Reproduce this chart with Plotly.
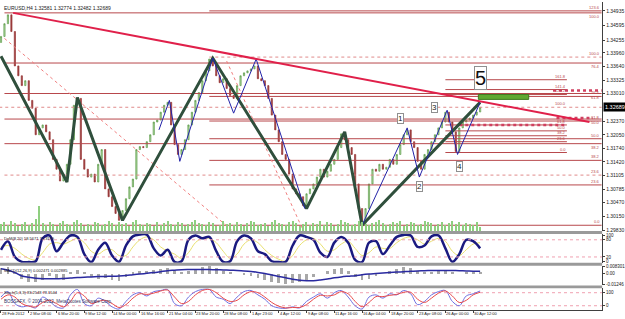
import plotly.graph_objects as go

# ------------------------------------------------------------------ data
TITLE = "EURUSD,H4 1.32581 1.32774 1.32482 1.32689"
STEP = 2          # candles drawn every 2 H4 bars
OSC_STEP = 4      # oscillator samples every 4 bars
first_open = 1.34200
closes = [1.34340, 1.34637, 1.34843, 1.34454, 1.33653, 1.33424, 1.33195, 1.33309, 1.32851, 1.32668,
          1.32050, 1.32210, 1.32279, 1.32118, 1.31935, 1.31477, 1.31248, 1.30973, 1.31134, 1.31363,
          1.31935, 1.32737, 1.32897, 1.31477, 1.31248, 1.31065, 1.31134, 1.30950, 1.31363, 1.31706,
          1.30790, 1.30607, 1.30378, 1.30217, 1.30057, 1.30286, 1.30561, 1.30836, 1.31019, 1.31706,
          1.31775, 1.31752, 1.31889, 1.32050, 1.32347, 1.32393, 1.32576, 1.32737, 1.32805, 1.32279,
          1.31821, 1.31592, 1.31706, 1.31935, 1.32279, 1.32576, 1.32851, 1.33034, 1.33309, 1.33538,
          1.33813, 1.33653, 1.33424, 1.33263, 1.33355, 1.33126, 1.32966, 1.32897, 1.33195, 1.33424,
          1.33492, 1.33538, 1.33584, 1.33653, 1.33355, 1.33309, 1.33195, 1.32897, 1.32508, 1.32164,
          1.31889, 1.31592, 1.31477, 1.31134, 1.30790, 1.30676, 1.30607, 1.30401, 1.30676, 1.30790,
          1.30905, 1.31065, 1.31248, 1.31065, 1.31202, 1.31363, 1.31477, 1.31752, 1.32072, 1.31935,
          1.31752, 1.31592, 1.30905, 1.30332, 1.29989, 1.30332, 1.30905, 1.31248, 1.31202, 1.31363,
          1.31248, 1.31294, 1.31477, 1.31363, 1.31592, 1.31821, 1.32050, 1.32164, 1.31889, 1.31752,
          1.31431, 1.31248, 1.31592, 1.31706, 1.31889, 1.32050, 1.32210, 1.32347, 1.32576, 1.32347,
          1.32118, 1.31660, 1.32210, 1.32347, 1.32393, 1.32439, 1.32508, 1.32581, 1.32689]
volumes = [2100, 2700, 1800, 3000, 2400, 1500, 2100, 2700, 1800, 2400, 3600, 7500, 2400, 1800, 2700,
           2100, 1500, 2400, 3000, 2100, 1800, 2700, 3300, 2400, 1500, 2100, 1800, 2700, 2400, 1800,
           2100, 3000, 2400, 1800, 2700, 2100, 2400, 1500, 2700, 3300, 2100, 1800, 2400, 2100, 1500,
           2700, 1800, 2400, 3000, 2100, 1800, 2700, 2400, 1500, 2100, 2700, 3300, 2400, 2100, 1800,
           2700, 2400, 1500, 1800, 3000, 2100, 2400, 1800, 2700, 2100, 1500, 2400, 3000, 2700, 1800,
           2100, 2400, 1500, 2700, 3300, 2400, 2100, 1800, 2700, 3000, 2400, 1500, 2100, 2700, 1800,
           2400, 2100, 3000, 1800, 2700, 2400, 1500, 2100, 3300, 2700, 2400, 1800, 2100, 3000, 2700,
           2100, 1800, 2400, 2700, 3300, 2400, 1800, 2100, 2700, 2400, 3000, 1500, 2100, 2700, 2400,
           1800, 2100, 3000, 2700, 2400, 1500, 2100, 2700, 1800, 2400, 3000, 2100, 2700, 1800, 2400,
           2100, 1800, 2700, 1200]

time_tick_bars = [0, 16, 32, 48, 64, 80, 96, 112, 128, 144, 160, 176, 192, 208, 224, 240, 256, 272]
time_labels = ["28 Feb 2012", "2 Mar 08:00", "6 Mar 20:00", "9 Mar 12:00", "14 Mar 00:00",
               "16 Mar 16:00", "21 Mar 04:00", "23 Mar 20:00", "28 Mar 08:00", "1 Apr 23:00",
               "4 Apr 12:00", "9 Apr 08:00", "11 Apr 16:00", "16 Apr 04:00", "18 Apr 20:00",
               "23 Apr 08:00", "26 Apr 00:00", "30 Apr 12:00"]
price_ticks = [1.34935, 1.34595, 1.34255, 1.33960, 1.33640, 1.33325, 1.33010, 1.32370, 1.32050,
               1.31740, 1.31420, 1.31105, 1.30785, 1.30470, 1.30150, 1.29830]
price_range = [1.29807, 1.35142]
last_price = 1.32689

green_zz_bars = [0, 38, 44, 70, 122, 176, 198, 208, 276]
green_zz_prices = [1.33882, 1.30950, 1.32920, 1.30057, 1.33836, 1.30332, 1.32118, 1.29943, 1.32805]
blue_zz_bars = [91, 97, 103, 122, 134, 147, 175, None, 208, 234, 241, 257, 263, 276]
blue_zz_prices = [1.32164, 1.32851, 1.31431, 1.33836, 1.32553, 1.33813, 1.30332, None,
                  1.29943, 1.32210, 1.31065, 1.32622, 1.31592, 1.32805]
trend_bars = [7, 339]
trend_prices = [1.34889, 1.32347]
dot1_bars = [2, 133]
dot1_prices = [1.34294, 1.29828]
dot2_bars = [130, 174]
dot2_prices = [1.33767, 1.29828]

fibA_levels = [1.34889, 1.33721, 1.33011, 1.32416, 1.31843]
fibA_labels = ["100.0", "76.4", "61.8", "50.0", "38.2"]
fibA_start = 2
fibA_dotted = [1.31111]
fibA_dotted_labels = ["23.6"]
fibB_levels = [1.34935, 1.32943, 1.32370, 1.31958, 1.31454, 1.30882]
fibB_labels = ["123.6", "76.4", "61.8", "50.0", "38.2", "23.6"]
fibB_start = 120
fibB_dotted = [1.33859]
fibB_dotted_labels = ["100.0"]
zero_level = 1.29943
zero_label = "0.0"
full_dotted_level = 1.32691
fib_end = 346
fibC_levels = [1.33332, 1.33103, 1.32989, 1.32279, 1.32141, 1.32027, 1.31889, 1.31637]
fibC_labels = ["161.8", "141.4", "127.2", "61.8", "50.0", "38.2", "23.6", "0.0"]
fibC_dotted = [1.32691]
fibC_dotted_labels = ["100.0"]
fibC_span = [256, 326]
hatch_levels = [1.33080, 1.32439, 1.32279]
hatch_spans = [[318, 346], [320, 341], [264, 326]]

rect_bars = [275, 304]
rect_prices = [1.32874, 1.32989]
wave_text = ["1", "2", "3", "4"]
wave_bars = [230, 241, 250, 264]
wave_prices = [1.32439, 1.30836, 1.32691, 1.31317]
wave5_bar = 276
wave5_price = 1.33378

dem_main = [45, 75, 20, 3, 2, 5, 85, 95, 40, 70, 95, 90, 30, 2, 45, 70, 25, 3, 60, 92,
            98, 98, 50, 25, 45, 3, 5, 80, 95, 85, 90, 40, 3, 5, 75, 95, 85, 40, 30, 5,
            2, 3, 60, 95, 90, 80, 35, 20, 70, 90, 70, 10, 2, 70, 75, 30, 60, 90, 97, 95,
            55, 60, 92, 95, 50, 3, 30, 80, 75, 50]
dem_signal = [55, 60, 50, 30, 15, 10, 35, 65, 70, 65, 75, 85, 70, 40, 30, 45, 45, 25, 25, 55,
              80, 90, 80, 55, 40, 30, 15, 35, 70, 85, 85, 70, 40, 15, 30, 65, 80, 70, 45, 25,
              12, 5, 25, 60, 80, 85, 65, 40, 45, 65, 75, 50, 25, 35, 55, 50, 50, 70, 85, 90,
              80, 65, 75, 85, 75, 40, 25, 45, 65, 70]
macd_hist = [0.006, 0.007, 0.002, -0.005, -0.008, -0.009, -0.006, -0.002, -0.004, -0.006,
             0.001, 0.004, 0.001, -0.003, -0.005, -0.004, -0.006, -0.007, -0.003, 0.001,
             0.003, 0.003, 0.004, 0.005, 0.006, 0.003, 0.001, 0.003, 0.005, 0.007,
             0.008, 0.006, 0.003, 0.002, 0.000, -0.001, -0.002, -0.004, -0.006, -0.008,
             -0.010, -0.011, -0.010, -0.008, -0.006, -0.003, 0.000, 0.003, 0.005, 0.006,
             0.003, -0.003, -0.006, -0.005, -0.002, 0.000, 0.003, 0.005, 0.007, 0.006,
             0.003, 0.002, 0.002, 0.003, 0.003, 0.002, 0.000, 0.001, 0.002, 0.002]
macd_signal = [0.0050, 0.0035, 0.0010, -0.0025, -0.0040, -0.0050, -0.0055, -0.0055, -0.0055, -0.0052,
               -0.0048, -0.0042, -0.0038, -0.0035, -0.0032, -0.0030, -0.0028, -0.0025, -0.0020, -0.0012,
               -0.0005, 0.0002, 0.0010, 0.0020, 0.0030, 0.0035, 0.0040, 0.0042, 0.0043, 0.0043,
               0.0042, 0.0040, 0.0038, 0.0035, 0.0032, 0.0028, 0.0022, 0.0012, 0.0000, -0.0015,
               -0.0030, -0.0045, -0.0060, -0.0070, -0.0075, -0.0075, -0.0068, -0.0058, -0.0045, -0.0035,
               -0.0028, -0.0022, -0.0012, -0.0005, 0.0000, 0.0005, 0.0010, 0.0015, 0.0020, 0.0025,
               0.0028, 0.0030, 0.0032, 0.0033, 0.0033, 0.0032, 0.0030, 0.0028, 0.0025, 0.0025]
stoch_blue = [60, 85, 30, 15, 20, 10, 60, 40, 15, 10, 70, 95, 30, 20, 55, 40, 15, 5, 40, 70,
              80, 65, 85, 90, 95, 30, 20, 60, 85, 95, 95, 60, 50, 30, 60, 85, 90, 70, 50, 20,
              10, 8, 15, 10, 40, 60, 75, 55, 80, 90, 60, 20, 5, 60, 70, 55, 75, 70, 90, 75,
              25, 40, 70, 85, 90, 40, 20, 65, 75, 88]
stoch_red = [50, 70, 60, 30, 18, 15, 35, 45, 30, 15, 40, 80, 65, 30, 40, 45, 30, 12, 25, 55,
             75, 72, 78, 88, 92, 60, 30, 40, 70, 90, 95, 80, 55, 40, 45, 70, 85, 80, 60, 35,
             18, 10, 12, 12, 25, 50, 68, 65, 70, 85, 75, 40, 15, 35, 62, 62, 68, 72, 82, 82,
             50, 35, 55, 78, 88, 65, 35, 45, 70, 82]
dem_tick_vals = [96, 80, 20, 4]
dem_tick_text = ["100", "80", "20", "0"]
macd_tick_vals = [0.0075, 0, -0.0115]
macd_tick_text = ["0.008301", "0.00", "-0.01246"]
stoch_tick_vals = [80, 20]
stoch_tick_text = ["100", "0"]
panel2_title = "DeM(8,20) 58.5671 72.3199"
panel3_title = "MACD(12,26,9) 0.002471 0.002885"
panel4_title = "Stoch(5,3,3) 83.2548 78.1544"
copyright_text = "BOSSAFX, \u00a9 2004-2012, MetaQuotes Software Corp."

# ------------------------------------------------------------------ layout helpers
W, H = 625, 319
def py(px):
    return 1 - px / H

XD = [0, 607 / W]
XR = [-0.571, 346.3]
FONT = "Liberation Sans"
FIB = "#b8484c"
FIB_DOT = "#e08a8a"

bars = [STEP * k for k in range(len(closes))]
opens = [first_open] + closes[:-1]
highs = [max(o, c) for o, c in zip(opens, closes)]
lows = [min(o, c) for o, c in zip(opens, closes)]
vbars = [STEP * k for k in range(len(volumes))]
obars = [OSC_STEP * j for j in range(len(dem_main))]

fig = go.Figure()

# volume (overlay axis on main panel)
fig.add_trace(go.Bar(x=vbars, y=volumes, yaxis="y5", xaxis="x",
                     marker=dict(color="#8fcf80", line=dict(width=0)), width=0.6))

def hline(x0, x1, y, color, dash="solid", width=1):
    fig.add_trace(go.Scatter(x=[x0, x1], y=[y, y], mode="lines",
                             line=dict(color=color, width=width, dash=dash),
                             xaxis="x", yaxis="y", hoverinfo="skip"))

ann = []
def flabel(x, y, t, below=False):
    ann.append(dict(x=x, y=y, xref="x", yref="y", text=t, showarrow=False,
                    xanchor="right", yanchor="top" if below else "bottom",
                    font=dict(size=4, color=FIB, family=FONT), borderpad=0))

for lv, lb in zip(fibA_levels, fibA_labels):
    hline(fibA_start, fib_end, lv, FIB)
    flabel(fib_end - 0.5, lv, lb, below=True)
for lv, lb in zip(fibA_dotted, fibA_dotted_labels):
    hline(fibA_start, fib_end, lv, FIB_DOT, "dot")
    flabel(fib_end - 0.5, lv, lb)
for lv, lb in zip(fibB_levels, fibB_labels):
    hline(fibB_start, fib_end, lv, FIB)
    flabel(fib_end - 0.5, lv, lb)
for lv, lb in zip(fibB_dotted, fibB_dotted_labels):
    hline(fibB_start, fib_end, lv, FIB_DOT, "dot")
    flabel(fib_end - 0.5, lv, lb)
hline(0, fib_end, zero_level, FIB)
flabel(fib_end - 0.5, zero_level, zero_label)
hline(-1, fib_end, full_dotted_level, FIB_DOT, "dot")
for lv, lb in zip(fibC_levels, fibC_labels):
    hline(fibC_span[0], fibC_span[1], lv, FIB)
    flabel(fibC_span[1], lv, lb)
for lv, lb in zip(fibC_dotted, fibC_dotted_labels):
    flabel(fibC_span[1], lv, lb)
for lv, sp in zip(hatch_levels, hatch_spans):
    hline(sp[0], sp[1], lv, "#d04060", "dot", 2.5)

# dotted diagonal lines
fig.add_trace(go.Scatter(x=dot1_bars, y=dot1_prices, mode="lines",
                         line=dict(color="#f08080", width=1, dash="dot"), xaxis="x", yaxis="y"))
fig.add_trace(go.Scatter(x=dot2_bars, y=dot2_prices, mode="lines",
                         line=dict(color="#f08080", width=1, dash="dot"), xaxis="x", yaxis="y"))

# candles
fig.add_trace(go.Candlestick(x=bars, open=opens, high=highs, low=lows, close=closes,
                             xaxis="x", yaxis="y", whiskerwidth=0,
                             increasing=dict(line=dict(color="#5a9a48", width=0.7), fillcolor="#b8e0a8"),
                             decreasing=dict(line=dict(color="#9a3a3a", width=0.7), fillcolor="#9a3a3a")))

# zigzags & trendline
fig.add_trace(go.Scatter(x=green_zz_bars, y=green_zz_prices, mode="lines",
                         line=dict(color="#2f4f3c", width=3), xaxis="x", yaxis="y"))
fig.add_trace(go.Scatter(x=blue_zz_bars, y=blue_zz_prices, mode="lines", connectgaps=False,
                         line=dict(color="#2323a8", width=1), xaxis="x", yaxis="y"))
fig.add_trace(go.Scatter(x=trend_bars, y=trend_prices, mode="lines",
                         line=dict(color="#e0204a", width=2), xaxis="x", yaxis="y"))

# panel 2 : DeM
fig.add_trace(go.Scatter(x=obars, y=dem_signal, mode="lines", line=dict(color="#e8e070", width=1, shape="spline"),
                         xaxis="x2", yaxis="y2"))
fig.add_trace(go.Scatter(x=obars, y=dem_main, mode="lines", line=dict(color="#1a1a80", width=2.5, shape="spline"),
                         xaxis="x2", yaxis="y2"))
for lv in [80, 20]:
    fig.add_trace(go.Scatter(x=[XR[0], XR[1]], y=[lv, lv], mode="lines",
                             line=dict(color="#f0a0b0", width=1, dash="dot"), xaxis="x2", yaxis="y2"))

# panel 3 : MACD
fig.add_trace(go.Bar(x=obars, y=macd_hist, marker=dict(color="#a8a8a8", line=dict(width=0)), width=1.6,
                     xaxis="x3", yaxis="y3"))
fig.add_trace(go.Scatter(x=obars, y=macd_signal, mode="lines", line=dict(color="#2a2aa0", width=1.5, shape="spline"),
                         xaxis="x3", yaxis="y3"))

# panel 4 : Stochastic
for lv in [80, 20]:
    fig.add_trace(go.Scatter(x=[XR[0], XR[1]], y=[lv, lv], mode="lines",
                             line=dict(color="#f0a0b0", width=1, dash="dot"), xaxis="x4", yaxis="y4"))
fig.add_trace(go.Scatter(x=obars, y=stoch_blue, mode="lines", line=dict(color="#6f6fe0", width=1, shape="spline"),
                         xaxis="x4", yaxis="y4"))
fig.add_trace(go.Scatter(x=obars, y=stoch_red, mode="lines", line=dict(color="#e84a4a", width=1, shape="spline"),
                         xaxis="x4", yaxis="y4"))

# ---------------------------------------------------------------- annotations
small = dict(size=5, color="#202020", family=FONT)
tiny = dict(size=4, color="#202020", family=FONT)
ann.append(dict(x=0.004, y=py(1), xref="paper", yref="paper", text=TITLE, showarrow=False,
                xanchor="left", yanchor="top", font=small))
ann.append(dict(x=0.004, y=py(235), xref="paper", yref="paper", text=panel2_title, showarrow=False,
                xanchor="left", yanchor="top", font=tiny))
ann.append(dict(x=0.004, y=py(267), xref="paper", yref="paper", text=panel3_title, showarrow=False,
                xanchor="left", yanchor="top", font=tiny))
ann.append(dict(x=0.004, y=py(290), xref="paper", yref="paper", text=panel4_title, showarrow=False,
                xanchor="left", yanchor="top", font=tiny))
ann.append(dict(x=0.004, y=py(298), xref="paper", yref="paper", text=copyright_text, showarrow=False,
                xanchor="left", yanchor="top", font=dict(size=4.5, color="#303060", family=FONT)))
for b, t in zip(time_tick_bars, time_labels):
    ann.append(dict(x=b, y=0, xref="x4", yref="paper", text=t, showarrow=False,
                    xanchor="left", yanchor="bottom", font=tiny, borderpad=0))
for t, b, p in zip(wave_text, wave_bars, wave_prices):
    ann.append(dict(x=b, y=p, xref="x", yref="y", text=t, showarrow=False,
                    font=dict(size=8, color="#202020", family=FONT), bgcolor="white",
                    bordercolor="#909090", borderwidth=1, borderpad=0))
ann.append(dict(x=wave5_bar, y=wave5_price, xref="x", yref="y", text="5", showarrow=False,
                font=dict(size=20, color="#101010", family=FONT), bgcolor="white",
                bordercolor="#909090", borderwidth=1, borderpad=0))
ann.append(dict(x=XD[1] + 0.002, y=last_price, xref="paper", yref="y", text="1.32689", showarrow=False,
                xanchor="left", font=dict(size=5.5, color="white", family=FONT), bgcolor="black", borderpad=1))

shapes = [
    dict(type="rect", xref="x", yref="y", x0=rect_bars[0], x1=rect_bars[1], y0=rect_prices[0], y1=rect_prices[1],
         fillcolor="#5fa832", line=dict(color="#3f7a22", width=1)),
]
for a, b in [(232, 235), (264, 267), (287, 290)]:
    shapes.append(dict(type="rect", xref="paper", yref="paper", x0=0, x1=XD[1], y0=py(b), y1=py(a),
                       fillcolor="#9a9a9a", line=dict(width=0)))

axis_common = dict(showgrid=False, zeroline=False, fixedrange=True)
tickfont = dict(size=5, color="#202020", family=FONT)
ptickfont = dict(size=4.5, color="#202020", family=FONT)

layout = dict(
    width=W, height=H, margin=dict(l=0, r=0, t=0, b=0), showlegend=False,
    paper_bgcolor="white", plot_bgcolor="white", bargap=0, boxgap=0.5,
    annotations=ann, shapes=shapes,
    xaxis=dict(domain=XD, range=XR, anchor="y", showticklabels=False, rangeslider=dict(visible=False), **axis_common),
    xaxis2=dict(domain=XD, range=XR, anchor="y2", showticklabels=False, **axis_common),
    xaxis3=dict(domain=XD, range=XR, anchor="y3", showticklabels=False, **axis_common),
    xaxis4=dict(domain=XD, range=XR, anchor="y4", showticklabels=False, showline=True, linecolor="#404040",
                linewidth=1, ticks="outside", ticklen=2, tickcolor="#404040", tickvals=time_tick_bars, **axis_common),
    yaxis=dict(domain=[py(232), py(0)], range=price_range, anchor="x", side="right",
               tickvals=price_ticks, ticktext=["%.5f" % v for v in price_ticks], tickfont=tickfont,
               ticks="outside", ticklen=2, tickcolor="#404040", showline=True, linecolor="#404040", linewidth=1,
               **axis_common),
    yaxis5=dict(overlaying="y", range=[0, 69600], visible=False, fixedrange=True),
    yaxis2=dict(domain=[py(264), py(235)], range=[0, 100], anchor="x2", side="right",
                tickvals=dem_tick_vals, ticktext=dem_tick_text, tickfont=ptickfont,
                ticks="outside", ticklen=2, tickcolor="#404040", showline=True, linecolor="#404040", **axis_common),
    yaxis3=dict(domain=[py(287), py(267)], range=[-0.01246, 0.0083], anchor="x3", side="right",
                tickvals=macd_tick_vals, ticktext=macd_tick_text, tickfont=ptickfont,
                ticks="outside", ticklen=2, tickcolor="#404040", showline=True, linecolor="#404040", **axis_common),
    yaxis4=dict(domain=[py(312), py(290)], range=[0, 100], anchor="x4", side="right",
                tickvals=stoch_tick_vals, ticktext=stoch_tick_text, tickfont=ptickfont,
                ticks="outside", ticklen=2, tickcolor="#404040", showline=True, linecolor="#404040", **axis_common),
)
fig.update_layout(**layout)
fig.write_html("out.html")
